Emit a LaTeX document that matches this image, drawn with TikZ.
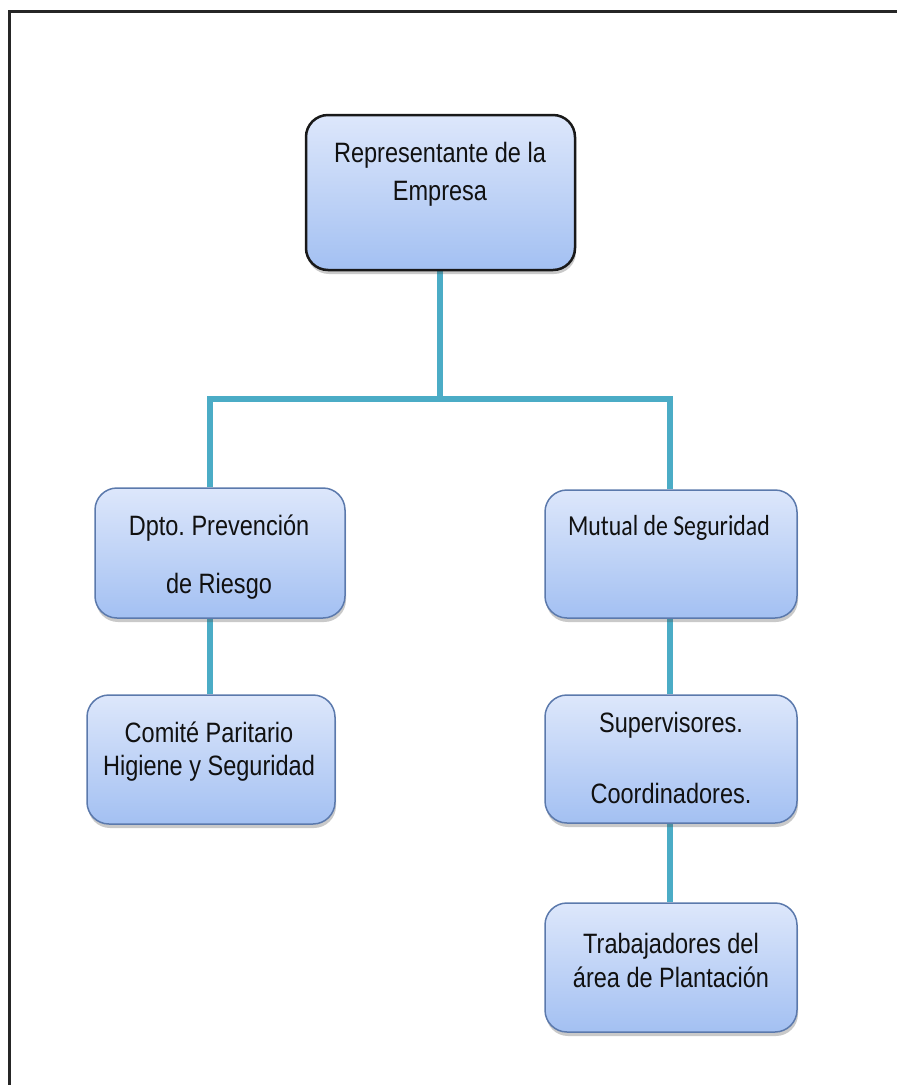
\documentclass[tikz,border=0pt]{standalone}
\usepackage{fontspec}
\newfontfamily\arialf[FakeStretch=0.84]{Liberation Sans}
\newfontfamily\calf[FakeStretch=0.82]{Carlito}
\usetikzlibrary{shadows,backgrounds}
\definecolor{conn}{HTML}{4BACC6}
\definecolor{boxtop}{HTML}{DDE7FB}
\definecolor{boxbot}{HTML}{A3C0F2}
\definecolor{boxline}{HTML}{5B79AC}
\definecolor{txt}{HTML}{111111}
\frenchspacing
\begin{document}
\begin{tikzpicture}[x=1pt,y=-1pt,
  orgbox/.style={rectangle, rounded corners=22pt, top color=boxtop, bottom color=boxbot,
    draw=boxline, line width=1.5pt, inner sep=0pt,
    drop shadow={shadow xshift=1pt, shadow yshift=-4pt, opacity=0.3, fill=black!70}},
  topbox/.style={orgbox, draw=black!90, line width=2.5pt},
  link/.style={draw=conn, line width=6.5pt},
  lbl/.style={anchor=base, inner sep=0pt, text=txt, font=\arialf\fontsize{28}{30}\selectfont},
  frame/.style={draw=black!85, line width=3pt}
]
\useasboundingbox (0,0) rectangle (897,1085);
\draw[frame] (9,1090) -- (9,11) -- (900,11);

% boxes
\node[topbox, minimum width=269pt, minimum height=155pt] (rep) at (440.5,192.5) {};
\node[orgbox, minimum width=250pt, minimum height=130pt] (dpto) at (220,553) {};
\node[orgbox, minimum width=252pt, minimum height=128pt] (mut) at (671,554) {};
\node[orgbox, minimum width=248pt, minimum height=129pt] (com) at (211,759.5) {};
\node[orgbox, minimum width=252pt, minimum height=128pt] (sup) at (671,759) {};
\node[orgbox, minimum width=252pt, minimum height=129pt] (trab) at (671,967.5) {};

% connectors
\coordinate (jl) at (210,399);
\coordinate (jm) at (440,399);
\coordinate (jr) at (670,399);
\begin{scope}[on background layer]
\draw[link] (rep.south -| jm) -- (jm);
\draw[link] (dpto.north -| jl) -- (jl) -- (jr) -- (mut.north -| jr);
\draw[link] (dpto.south -| jl) -- (com.north -| jl);
\draw[link] (mut.south -| jr) -- (sup.north -| jr);
\draw[link] (sup.south -| jr) -- (trab.north -| jr);
\end{scope}

% texts
\node[lbl] (rep1) at (440,162) {Representante de la};
\node[lbl] (rep2) at (440,200) {Empresa};
\node[lbl] (dp1) at (219,535) {Dpto. Prevención};
\node[lbl] (dp2) at (219,593) {de Riesgo};
\node[lbl, font=\calf\fontsize{29}{30}\selectfont] (mu1) at (669,535) {Mutual de Seguridad};
\node[lbl] (co1) at (209,742) {Comité Paritario};
\node[lbl] (co2) at (209,775) {Higiene y Seguridad};
\node[lbl] (su1) at (671,732) {Supervisores.};
\node[lbl] (su2) at (671,803) {Coordinadores.};
\node[lbl] (tr1) at (671,953) {Trabajadores del};
\node[lbl] (tr2) at (671,987) {área de Plantación};
\end{tikzpicture}
\end{document}
